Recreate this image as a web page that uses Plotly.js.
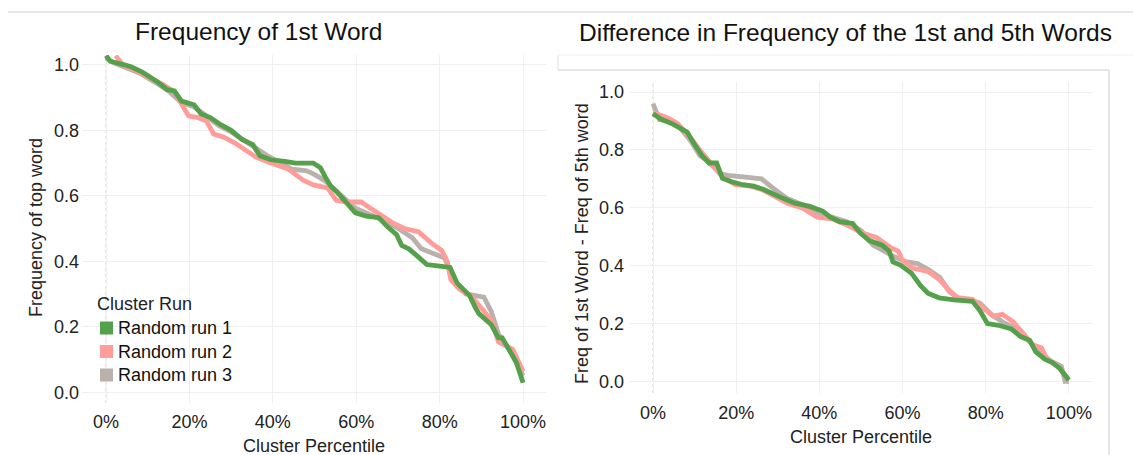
<!DOCTYPE html>
<html>
<head>
<meta charset="utf-8">
<script src="https://cdn.plot.ly/plotly-3.0.1.min.js"></script>
<style>
  html, body { margin: 0; padding: 0; background: #ffffff; }
  #chart { width: 1133px; height: 455px; }
</style>
</head>
<body>
<div id="chart"></div>
<script>
// ---------- data ----------
const seriesNames = ['Random run 1', 'Random run 2', 'Random run 3'];
const seriesColors = ['#55a04b', '#ff9d9a', '#bab0ac'];
const xTicks = [0, 20, 40, 60, 80, 100];
const xTickLabels = ['0%', '20%', '40%', '60%', '80%', '100%'];
const yTicks = [0, 0.2, 0.4, 0.6, 0.8, 1.0];
const yTickLabels = ['0.0', '0.2', '0.4', '0.6', '0.8', '1.0'];

// Left panel: Frequency of 1st Word
const leftRun1X = [0,1,4.4,6,8.7,12.1,14.7,16.4,18.1,21.1,22.8,25,27.5,30,32.6,35.2,36.9,39.5,42.9,45.4,49.7,51.4,52.6,53.9,55.2,57.3,59.8,62.4,65.4,67.5,69.7,70.9,72.6,74.8,76.9,79.5,82.5,84.2,87.2,88.5,89.4,92.4,94.1,95,96.7,98.4,100];
const leftRun1Y = [1.028,1.011,1.0,0.994,0.978,0.95,0.924,0.92,0.889,0.878,0.85,0.839,0.817,0.8,0.772,0.756,0.722,0.71,0.705,0.70,0.70,0.686,0.657,0.629,0.614,0.586,0.548,0.538,0.533,0.505,0.481,0.448,0.438,0.414,0.39,0.386,0.381,0.333,0.295,0.26,0.24,0.206,0.166,0.166,0.126,0.091,0.029];
const leftRun2X = [2.3,4,7,10.4,13.8,16.4,18.1,19.8,22,24.1,25.8,28.4,30.9,33.5,36.1,39.5,43.8,47.2,49.7,53.1,55.2,57.8,61.2,63.4,66,68.5,71.5,74.9,77.9,80.5,81.8,82.7,84.8,87.4,88.5,89.8,92.4,94.1,95.8,97.5,98.8,100];
const leftRun2Y = [1.028,1.0,0.983,0.961,0.939,0.917,0.878,0.844,0.839,0.828,0.789,0.778,0.761,0.739,0.717,0.70,0.681,0.648,0.633,0.624,0.586,0.581,0.581,0.562,0.538,0.519,0.50,0.49,0.457,0.433,0.40,0.343,0.314,0.295,0.28,0.26,0.22,0.154,0.143,0.131,0.097,0.063];
const leftRun3X = [0,2,5,8,12,15,18,21,24,27,30,33,36,39,42,44.6,48.1,49.7,52.3,54.8,57.4,59.8,63.2,66.7,70.1,73.5,75.6,78.6,81.2,82.5,83.8,86.3,88.9,90.6,92.4,94.1,96.7,100];
const leftRun3Y = [1.02,1.005,0.99,0.975,0.945,0.92,0.885,0.872,0.845,0.815,0.795,0.77,0.745,0.72,0.70,0.681,0.676,0.667,0.648,0.619,0.586,0.562,0.543,0.524,0.50,0.471,0.438,0.424,0.41,0.371,0.333,0.30,0.295,0.29,0.246,0.177,0.131,0.05];

// Right panel: Difference in Frequency of the 1st and 5th Words
const rightRun1X = [0,2,4.6,6,8.2,10,11.8,13.5,15.3,16.7,18.9,21.6,24.2,26.5,28.7,31.4,34.1,37.7,40.8,42.6,44.9,48,49.8,52,55.1,56.8,57.7,59.5,62.1,64.3,66.1,68.8,72.4,76.8,78.6,80.4,83.1,86.2,88.4,90.6,92,94.2,96,97.8,100];
const rightRun1Y = [0.925,0.906,0.891,0.881,0.862,0.819,0.78,0.755,0.755,0.702,0.69,0.68,0.675,0.664,0.648,0.632,0.616,0.605,0.589,0.568,0.552,0.546,0.514,0.487,0.471,0.45,0.413,0.402,0.375,0.332,0.305,0.289,0.282,0.277,0.245,0.2,0.194,0.181,0.155,0.142,0.103,0.077,0.065,0.045,0.005];
const rightRun2X = [0,3.7,6,9.1,11.8,14.4,16.7,19.8,23.4,26.1,28.7,32.3,35.9,39.5,43,46.6,50.2,53.7,57.3,59,59.9,62.6,66.1,68.8,71.5,73.3,76.8,79.5,81.7,84,86.6,88.9,91.1,93.4,94.7,97.4,99.6];
const rightRun2Y = [0.93,0.91,0.89,0.84,0.79,0.745,0.707,0.68,0.675,0.664,0.643,0.616,0.60,0.568,0.562,0.541,0.514,0.498,0.461,0.45,0.42,0.391,0.38,0.353,0.311,0.29,0.284,0.252,0.226,0.232,0.206,0.168,0.129,0.116,0.077,0.052,0.013];
const rightRun3X = [0,1.5,5.5,9.1,11.3,12.7,16.3,18,21.6,26.1,28.7,32.3,35.9,39.5,43,46.6,50.2,52.9,55.6,58.3,61,63.6,66.3,69,71.2,73.5,75.9,78.6,81.3,84,87.5,90.2,92.9,95.6,98.2,99.1,100];
const rightRun3Y = [0.96,0.906,0.894,0.831,0.78,0.766,0.718,0.712,0.707,0.70,0.67,0.632,0.611,0.584,0.568,0.552,0.52,0.471,0.45,0.429,0.413,0.407,0.386,0.359,0.311,0.285,0.283,0.271,0.232,0.206,0.181,0.142,0.103,0.071,0.052,0.0,0.0];

const leftTitle = 'Frequency of 1st Word';
const rightTitle = 'Difference in Frequency of the 1st and 5th Words';
const xTitle = 'Cluster Percentile';
const leftYTitle = 'Frequency of top word';
const rightYTitle = 'Freq of 1st Word - Freq of 5th word';
const legendTitle = 'Cluster Run';

// ---------- chart ----------
const W = 1133, H = 455;
const FONT = 'Liberation Sans, Arial, sans-serif';
const TXT = '#222222';
const px = v => v / W;           // pixel -> paper x
const py = v => 1 - v / H;       // pixel -> paper y

function line(x, y, i, xa, ya) {
  return {
    x: x, y: y, xaxis: xa, yaxis: ya, type: 'scatter', mode: 'lines',
    name: seriesNames[i], showlegend: false, hoverinfo: 'skip',
    line: { color: seriesColors[i], width: 4.8 }
  };
}

const traces = [
  line(leftRun3X, leftRun3Y, 2, 'x', 'y'),
  line(leftRun2X, leftRun2Y, 1, 'x', 'y'),
  line(leftRun1X, leftRun1Y, 0, 'x', 'y'),
  line(rightRun3X, rightRun3Y, 2, 'x2', 'y2'),
  line(rightRun2X, rightRun2Y, 1, 'x2', 'y2'),
  line(rightRun1X, rightRun1Y, 0, 'x2', 'y2')
];

const axisCommon = {
  showgrid: true, gridcolor: '#efefef', gridwidth: 1,
  zeroline: false, showline: false, ticks: '',
  tickfont: { family: FONT, size: 18, color: TXT },
  tickmode: 'array',
  fixedrange: true
};

const shapes = [
  // top separator line
  { type: 'line', xref: 'paper', yref: 'paper', x0: px(8), x1: 1, y0: py(12), y1: py(12), line: { color: '#cccccc', width: 1 } },
  // right panel frame
  { type: 'line', xref: 'paper', yref: 'paper', x0: px(558), x1: 1, y0: py(55), y1: py(55), line: { color: '#eeeeee', width: 1 } },
  { type: 'line', xref: 'paper', yref: 'paper', x0: px(558), x1: px(558), y0: py(55), y1: py(70), line: { color: '#dddddd', width: 1 } },
  { type: 'line', xref: 'paper', yref: 'paper', x0: px(558), x1: px(1109), y0: py(70), y1: py(70), line: { color: '#cccccc', width: 1 } },
  { type: 'line', xref: 'paper', yref: 'paper', x0: px(1109), x1: px(1109), y0: py(70), y1: 0, line: { color: '#cccccc', width: 1 } },
  // dotted zero lines at 0%
  { type: 'line', xref: 'x', yref: 'paper', x0: 0, x1: 0, y0: py(403), y1: py(55), line: { color: '#cfcfcf', width: 1, dash: 'dot' }, layer: 'below' },
  { type: 'line', xref: 'x2', yref: 'paper', x0: 0, x1: 0, y0: py(393), y1: py(82), line: { color: '#cfcfcf', width: 1, dash: 'dot' }, layer: 'below' }
];

const annotations = [
  { text: leftTitle, xref: 'paper', yref: 'paper', x: px(258), y: py(32), xanchor: 'center', yanchor: 'middle', showarrow: false, font: { family: FONT, size: 24.5, color: '#111111' } },
  { text: rightTitle, xref: 'paper', yref: 'paper', x: px(845), y: py(33), xanchor: 'center', yanchor: 'middle', showarrow: false, font: { family: FONT, size: 24.5, color: '#111111' } },
  { text: xTitle, xref: 'paper', yref: 'paper', x: px(314), y: py(446), xanchor: 'center', yanchor: 'middle', showarrow: false, font: { family: FONT, size: 18, color: TXT } },
  { text: xTitle, xref: 'paper', yref: 'paper', x: px(861), y: py(437), xanchor: 'center', yanchor: 'middle', showarrow: false, font: { family: FONT, size: 18, color: TXT } },
  { text: leftYTitle, xref: 'paper', yref: 'paper', x: px(36), y: py(228), xanchor: 'center', yanchor: 'middle', textangle: -90, showarrow: false, font: { family: FONT, size: 18, color: TXT } },
  { text: rightYTitle, xref: 'paper', yref: 'paper', x: px(582), y: py(244), xanchor: 'center', yanchor: 'middle', textangle: -90, showarrow: false, font: { family: FONT, size: 18, color: TXT } },
  // legend title
  { text: legendTitle, xref: 'paper', yref: 'paper', x: px(95), y: py(304), xanchor: 'left', yanchor: 'middle', showarrow: false, font: { family: FONT, size: 18, color: TXT } }
];

// legend entries: square swatch + label
const legendRowY = [328, 351.5, 375];
seriesNames.forEach((n, i) => {
  const cy = legendRowY[i];
  shapes.push({ type: 'rect', xref: 'paper', yref: 'paper', x0: px(100), x1: px(113), y0: py(cy + 6.5), y1: py(cy - 6.5), fillcolor: seriesColors[i], line: { width: 0 } });
  annotations.push({ text: n, xref: 'paper', yref: 'paper', x: px(116), y: py(cy), xanchor: 'left', yanchor: 'middle', showarrow: false, font: { family: FONT, size: 18, color: '#111111' } });
});

const layout = {
  width: W, height: H,
  margin: { l: 0, r: 0, t: 0, b: 0 },
  paper_bgcolor: '#ffffff', plot_bgcolor: '#ffffff',
  font: { family: FONT, color: TXT },
  showlegend: false,
  xaxis: Object.assign({}, axisCommon, {
    domain: [px(82), px(546)], anchor: 'y',
    range: [-5.76, 105.5], tickvals: xTicks, ticktext: xTickLabels, ticklabelstandoff: 6
  }),
  yaxis: Object.assign({}, axisCommon, {
    domain: [py(403), py(55)], anchor: 'x',
    range: [-0.033, 1.03], tickvals: yTicks, ticktext: yTickLabels, ticklabelstandoff: 2
  }),
  xaxis2: Object.assign({}, axisCommon, {
    domain: [px(630), px(1093)], anchor: 'y2',
    range: [-5.53, 105.8], tickvals: xTicks, ticktext: xTickLabels, ticklabelstandoff: 7
  }),
  yaxis2: Object.assign({}, axisCommon, {
    domain: [py(393), py(82)], anchor: 'x2',
    range: [-0.04, 1.035], tickvals: yTicks, ticktext: yTickLabels, ticklabelstandoff: 5
  }),
  shapes: shapes,
  annotations: annotations
};

Plotly.newPlot('chart', traces, layout, { displayModeBar: false, staticPlot: true });
</script>
</body>
</html>
